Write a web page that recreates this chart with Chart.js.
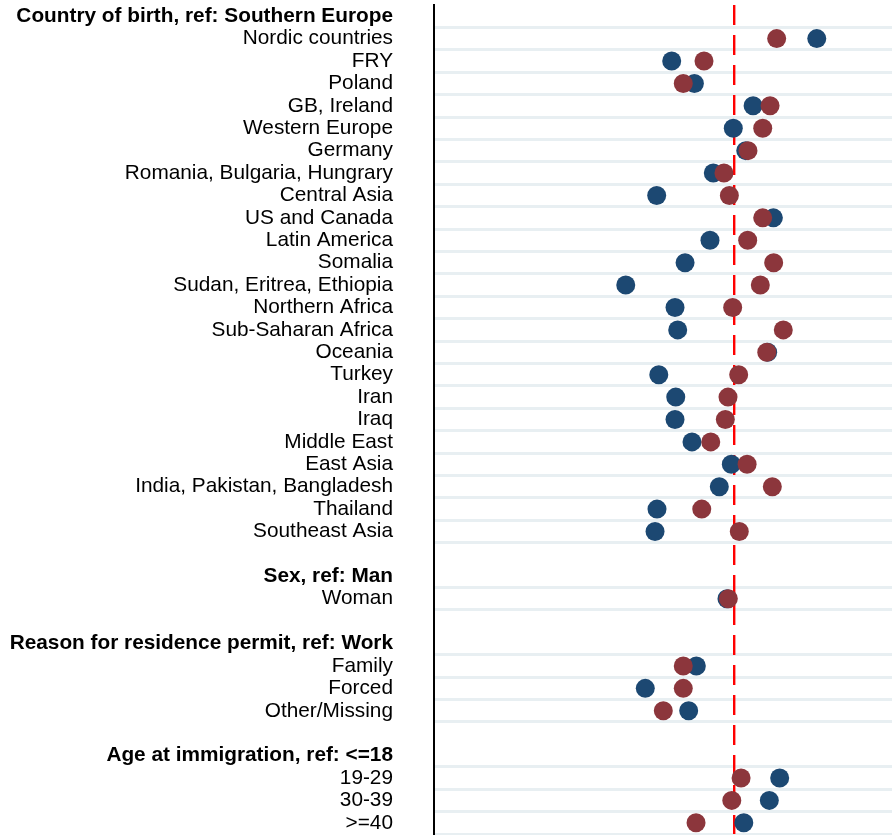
<!DOCTYPE html>
<html>
<head>
<meta charset="utf-8">
<script src="https://cdn.jsdelivr.net/npm/chart.js@4"></script>
<style>
  body { margin: 0; background: #fff; }
  #wrap { width: 892px; height: 835px; position: relative; }
</style>
</head>
<body>
<div id="wrap"><canvas id="chart"></canvas></div>
<script>
// rows top to bottom, '' = spacer row
const rowLabels = [
    'Country of birth, ref: Southern Europe',
    'Nordic countries', 'FRY', 'Poland', 'GB, Ireland', 'Western Europe', 'Germany',
    'Romania, Bulgaria, Hungrary', 'Central Asia', 'US and Canada', 'Latin America',
    'Somalia', 'Sudan, Eritrea, Ethiopia', 'Northern Africa', 'Sub-Saharan Africa',
    'Oceania', 'Turkey', 'Iran', 'Iraq', 'Middle East', 'East Asia',
    'India, Pakistan, Bangladesh', 'Thailand', 'Southeast Asia',
    '',
    'Sex, ref: Man',
    'Woman',
    '',
    'Reason for residence permit, ref: Work',
    'Family', 'Forced', 'Other/Missing',
    '',
    'Age at immigration, ref: <=18',
    '19-29', '30-39', '>=40'
];

const headerRows = [0, 25, 28, 33];

const blueValues = [
    null,
    0.549, -0.417, -0.266, 0.125, -0.007, 0.076,
    -0.140, -0.517, 0.260, -0.162,
    -0.328, -0.723, -0.395, -0.377,
    0.222, -0.503, -0.390, -0.395, -0.282, -0.020,
    -0.100, -0.515, -0.528,
    null,
    null,
    -0.049,
    null,
    null,
    -0.253, -0.593, -0.304,
    null,
    null,
    0.302, 0.233, 0.063
];

const redValues = [
    null,
    0.282, -0.202, -0.340, 0.238, 0.189, 0.091,
    -0.069, -0.033, 0.189, 0.089,
    0.262, 0.173, -0.011, 0.326,
    0.216, 0.029, -0.042, -0.060, -0.157, 0.085,
    0.253, -0.217, 0.033,
    null,
    null,
    -0.040,
    null,
    null,
    -0.340, -0.340, -0.473,
    null,
    null,
    0.045, -0.017, -0.255
];

const refValue = 0;
const gridColor = '#e8eff2';

let ctx = document.getElementById('chart').getContext('2d');
let chart = new Chart(ctx, {
    type: 'line',
    data: {
        labels: rowLabels,
        datasets: [{
            label: 'blue',
            data: blueValues,
            showLine: false,
            pointRadius: 9.5,
            pointHoverRadius: 9.5,
            pointBackgroundColor: '#1c4872',
            pointBorderColor: '#1c4872',
            pointBorderWidth: 0,
            order: 1
        }, {
            label: 'red',
            data: redValues,
            showLine: false,
            pointRadius: 9.5,
            pointHoverRadius: 9.5,
            pointBackgroundColor: '#8c363c',
            pointBorderColor: '#8c363c',
            pointBorderWidth: 0,
            order: 0
        }]
    },
    options: {
        indexAxis: 'y',
        responsive: true,
        maintainAspectRatio: false,
        animation: false,
        layout: { autoPadding: false, padding: { top: 5, bottom: 1, left: 0, right: 0 } },
        plugins: {
            legend: { display: false },
            tooltip: { enabled: false }
        },
        scales: {
            x: {
                type: 'linear',
                min: -2,
                max: 1.05,
                ticks: { display: false, stepSize: 0.5 },
                grid: {
                    z: -0.5,
                    drawTicks: false,
                    lineWidth: 2.4,
                    color: (c) => (c.tick && c.tick.value === refValue) ? '#ff0000' : 'rgba(0,0,0,0)'
                },
                border: { display: false, dash: [20, 10] },
                afterFit: (s) => {
                    s.height = 0;
                    s.paddingLeft = 0;
                    s.paddingRight = 0;
                }
            },
            y: {
                type: 'category',
                offset: true,
                ticks: {
                    autoSkip: false,
                    padding: 41,
                    color: '#000',
                    font: (c) => ({
                        family: '"Liberation Sans", Arial, sans-serif',
                        size: 20.8,
                        weight: headerRows.includes(c.index) ? 'bold' : 'normal'
                    })
                },
                grid: {
                    offset: true,
                    drawTicks: false,
                    lineWidth: 3,
                    color: (c) => {
                        if (c.index === undefined) return gridColor;
                        return (c.index > 0 && rowLabels[c.index - 1] !== '') ? gridColor : 'rgba(0,0,0,0)';
                    }
                },
                border: { display: true, color: '#000', width: 2 },
                afterFit: (s) => {
                    s.width = 434;
                    s.paddingTop = 0;
                    s.paddingBottom = 0;
                }
            }
        }
    }
});
</script>
</body>
</html>
